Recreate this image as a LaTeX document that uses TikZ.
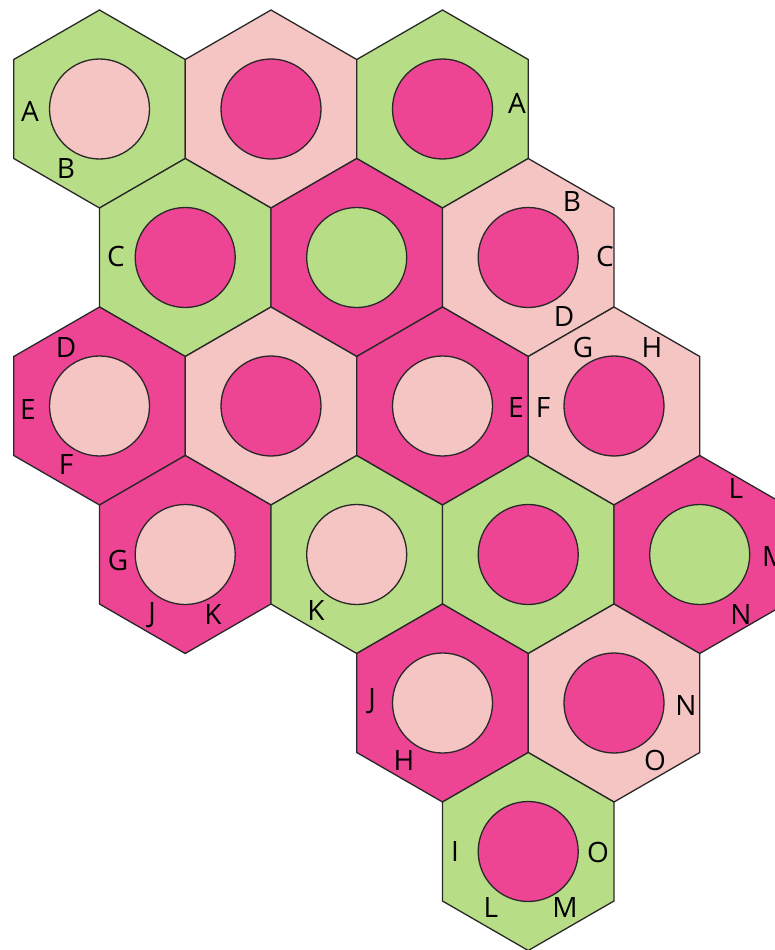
\documentclass[tikz,border=0pt]{standalone}
\usepackage{fontspec}
\setmainfont{Open Sans}
\definecolor{hgreen}{RGB}{183,222,134}
\definecolor{hpink}{RGB}{245,197,196}
\definecolor{hmag}{RGB}{237,69,147}
\definecolor{hline}{RGB}{40,40,40}
\newcommand\hexcell[4]{%
  \filldraw[hexcellstyle,fill=#3] (#1,#2) +(30:99) -- +(90:99) -- +(150:99) -- +(210:99) -- +(270:99) -- +(330:99) -- cycle;
  \filldraw[hexcellstyle,fill=#4] (#1,#2) circle[radius=50];}
\tikzset{
  hexcellstyle/.style={draw=hline,line width=1.3pt,line join=miter},
  lbl/.style={inner sep=0pt,text height=20pt,text depth=0pt,anchor=center,font=\fontsize{28}{30}\selectfont,text=black},
  ghost/.style={inner sep=0pt,anchor=center,text=white}
}
\begin{document}
\begin{tikzpicture}[x=1pt,y=-1pt]
\useasboundingbox (0,0) rectangle (775,950);
\clip (0,0) rectangle (775,950);
% row 0 (y=109)
\hexcell{99.5}{109}{hgreen}{hpink}
\hexcell{271.0}{109}{hpink}{hmag}
\hexcell{442.5}{109}{hgreen}{hmag}
% row 1 (y=257.5)
\hexcell{185.2}{257.5}{hgreen}{hmag}
\hexcell{356.7}{257.5}{hmag}{hgreen}
\hexcell{528.2}{257.5}{hpink}{hmag}
% row 2 (y=406)
\hexcell{99.5}{406}{hmag}{hpink}
\hexcell{271.0}{406}{hpink}{hmag}
\hexcell{442.5}{406}{hmag}{hpink}
\hexcell{614.0}{406}{hpink}{hmag}
% row 3 (y=554.5)
\hexcell{185.2}{554.5}{hmag}{hpink}
\hexcell{356.7}{554.5}{hgreen}{hpink}
\hexcell{528.2}{554.5}{hgreen}{hmag}
\hexcell{699.7}{554.5}{hmag}{hgreen}
% row 4 (y=703)
\hexcell{442.5}{703}{hmag}{hpink}
\hexcell{614.0}{703}{hpink}{hmag}
% row 5 (y=851.5)
\hexcell{528.2}{851.5}{hgreen}{hmag}
% labels
\node[lbl] (a1) at (30,111) {A};
\node[lbl] (b1) at (66,168) {B};
\node[lbl] (a2) at (517,103) {A};
\node[lbl] (c1) at (116,256) {C};
\node[lbl] (b2) at (572,201) {B};
\node[lbl] (c2) at (605,256) {C};
\node[lbl] (d2) at (564,316) {D};
\node[lbl] (d1) at (66,347) {D};
\node[lbl] (e1) at (28,409) {E};
\node[lbl] (f1) at (66,464) {F};
\node[lbl] (e2) at (516,407) {E};
\node[lbl] (f2) at (543,407) {F};
\node[lbl] (g2) at (583,347) {G};
\node[lbl] (h2) at (652,347) {H};
\node[lbl] (g1) at (118,560) {G};
\node[lbl] (j1) at (152,612) {J};
\node[lbl] (k1) at (213,614) {K};
\node[lbl] (k2) at (316,610) {K};
\node[lbl] (l1) at (736,488) {L};
\node[lbl,anchor=west] (m1) at (762,556) {M};
\node[lbl] (n1) at (741,614) {N};
\node[lbl] (j2) at (372,698) {J};
\node[lbl] (h1) at (404,760) {H};
\node[lbl] (n2) at (686,705) {N};
\node[lbl] (o1) at (655,760) {O};
\node[lbl] (i1) at (455,851) {I};
\node[lbl] (o2) at (598,852) {O};
\node[lbl] (l2) at (491,907) {L};
\node[lbl] (m2) at (565,907) {M};
% faint white texts
\node[ghost,font=\fontsize{20}{22}\selectfont] (date) at (609,178) {13, 2022};
\node[ghost,font=\fontsize{14}{16}\selectfont] (ref) at (258,757) {a12};
\end{tikzpicture}
\end{document}
